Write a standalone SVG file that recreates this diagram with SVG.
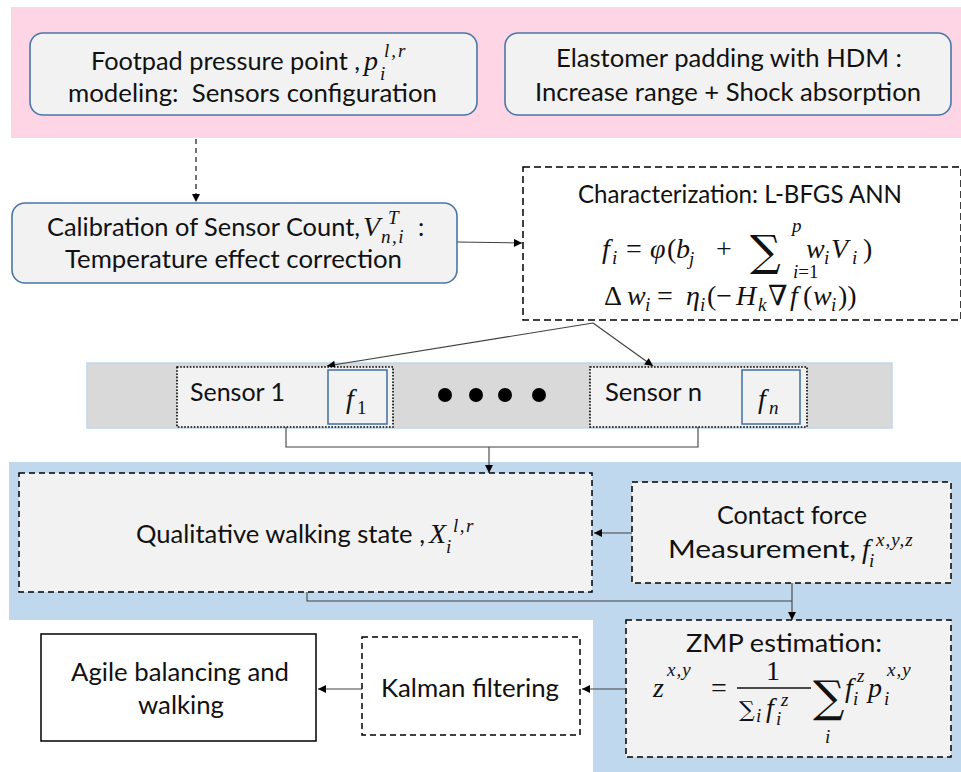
<svg xmlns="http://www.w3.org/2000/svg" width="961" height="772" viewBox="0 0 961 772">
  <defs>
    <marker id="ah" viewBox="0 0 10 10" refX="10" refY="5" markerWidth="9" markerHeight="8" markerUnits="userSpaceOnUse" orient="auto">
      <path d="M0,0 L10,5 L0,10 z" fill="#000"/>
    </marker>
    <style>
      .t { font-family: Lato, "Open Sans", "Liberation Sans", sans-serif; font-size: 25px; fill: #111; }
      .m { font-family: "Liberation Serif", "DejaVu Serif", serif; font-style: italic; font-size: 28px; fill: #111; }
      .u { font-style: normal; }
      .s { font-size: 19px; }
      .sum { font-family: "DejaVu Serif", "Liberation Serif", serif; font-style: normal; fill: #111; }
      .rbox { fill: #f2f2f2; stroke: #4a76a8; stroke-width: 1.6; }
      .dbox { fill: #f2f2f2; stroke: #000; stroke-width: 1.5; stroke-dasharray: 6 4; }
      .wdbox { fill: #fff; stroke: #000; stroke-width: 1.5; stroke-dasharray: 6 4; }
      .dotbox { fill: #f2f2f2; stroke: #000; stroke-width: 1.6; stroke-dasharray: 1.6 1.6; }
      .fbox { fill: #f2f2f2; stroke: #4a76a8; stroke-width: 1.6; }
      .link { fill: none; stroke: #404040; stroke-width: 1.1; }
      .dash { stroke: #000; stroke-dasharray: 5 4; }
    </style>
  </defs>

  <!-- background bands -->
  <rect x="11" y="7" width="950" height="131" fill="#fdd5e5"/>
  <path d="M9,462 H961 V772 H593 V620 H9 Z" fill="#c0d8ee"/>
  <rect x="87" y="363" width="805" height="65" fill="#d9d9d9" stroke="#bdd7ee" stroke-width="1.5"/>

  <!-- connectors -->
  <g id="connectors">
    <line class="link dash" x1="196" y1="139" x2="196" y2="202" marker-end="url(#ah)"/>
    <line class="link" x1="457" y1="242" x2="522" y2="243" marker-end="url(#ah)"/>
    <line class="link" x1="593" y1="323" x2="327" y2="366" marker-end="url(#ah)"/>
    <line class="link" x1="593" y1="323" x2="653" y2="366" marker-end="url(#ah)"/>
    <polyline class="link" points="286,427 286,447 698,447 698,427"/>
    <line class="link" x1="489" y1="447" x2="489" y2="473" marker-end="url(#ah)"/>
    <line class="link" x1="632" y1="533" x2="594" y2="533" marker-end="url(#ah)"/>
    <polyline class="link" points="307,592 307,601 792,601"/>
    <line class="link" x1="792" y1="583" x2="792" y2="620" marker-end="url(#ah)"/>
    <line class="link" x1="625" y1="689" x2="582" y2="689" marker-end="url(#ah)"/>
    <line class="link" x1="362" y1="689" x2="318" y2="689" marker-end="url(#ah)"/>
  </g>

  <!-- footpad modelling -->
  <g id="footpad">
    <rect class="rbox" x="30" y="33" width="447" height="82" rx="13"/>
    <text class="t" x="91" y="70" textLength="269" lengthAdjust="spacingAndGlyphs">Footpad pressure point ,</text>
    <text class="m" x="364" y="70">p</text>
    <text class="m s" x="380" y="80">i</text>
    <text class="m s" x="384" y="57" letter-spacing="2">l,r</text>
    <text class="t" x="68" y="102" textLength="369" lengthAdjust="spacingAndGlyphs" xml:space="preserve">modeling:  Sensors configuration</text>
  </g>

  <!-- elastomer padding -->
  <g id="elastomer">
    <rect class="rbox" x="505" y="33" width="446" height="82" rx="13"/>
    <text class="t" x="556" y="67" textLength="346" lengthAdjust="spacingAndGlyphs">Elastomer padding with HDM :</text>
    <text class="t" x="535" y="101" textLength="386" lengthAdjust="spacingAndGlyphs">Increase range + Shock absorption</text>
  </g>

  <!-- calibration -->
  <g id="calibration">
    <rect class="rbox" x="12" y="203" width="445" height="80" rx="13"/>
    <text class="t" x="47" y="236" textLength="313" lengthAdjust="spacingAndGlyphs">Calibration of Sensor Count,</text>
    <text class="m" x="363" y="236">V</text>
    <text class="m s" x="388" y="224">T</text>
    <text class="m s" x="381" y="243" letter-spacing="1.5">n,i</text>
    <text class="t" x="418" y="236">:</text>
    <text class="t" x="65" y="268" textLength="337" lengthAdjust="spacingAndGlyphs">Temperature effect correction</text>
  </g>

  <!-- characterization ANN -->
  <g id="characterization">
    <rect x="523" y="167" width="438" height="153" fill="#fff" stroke="#000" stroke-width="1.5" stroke-dasharray="7 4"/>
    <text class="t" x="578" y="203" textLength="324" lengthAdjust="spacingAndGlyphs">Characterization: L-BFGS ANN</text>
    <text class="m" y="258"><tspan x="602">f</tspan><tspan class="s" x="612" dy="6">i</tspan><tspan class="u" x="626" dy="-6">=</tspan><tspan x="650">φ</tspan><tspan class="u" x="667">(</tspan><tspan x="676">b</tspan><tspan class="s" x="689" dy="7">j</tspan><tspan class="u" x="716" dy="-7">+</tspan></text>
    <text class="sum" x="750" y="266" font-size="43">∑</text>
    <text class="m s" x="792" y="232">p</text>
    <text class="m s" x="793" y="278" font-size="17">i<tspan class="u">=1</tspan></text>
    <text class="m" y="258"><tspan x="806">w</tspan><tspan class="s" x="824" dy="6">i</tspan><tspan x="831" dy="-6">V</tspan><tspan class="s" x="852" dy="6">i</tspan><tspan class="u" x="863" dy="-6">)</tspan></text>
    <text class="m" y="305"><tspan class="u" x="604">Δ</tspan><tspan x="627">w</tspan><tspan class="s" x="645" dy="6">i</tspan><tspan class="u" x="657" dy="-6">=</tspan><tspan x="686">η</tspan><tspan class="s" x="700" dy="6">i</tspan><tspan class="u" x="707" dy="-6">(−</tspan><tspan x="736">H</tspan><tspan class="s" x="758" dy="6">k</tspan><tspan class="u" x="768" dy="-6">∇</tspan><tspan x="790">f</tspan><tspan class="u" x="803">(</tspan><tspan x="813">w</tspan><tspan class="s" x="831" dy="6">i</tspan><tspan class="u" x="838" dy="-6">))</tspan></text>
  </g>

  <!-- sensors -->
  <g id="sensor-1">
    <rect class="dotbox" x="177" y="367" width="216" height="60"/>
    <text class="t" x="190" y="401" textLength="95" lengthAdjust="spacingAndGlyphs">Sensor 1</text>
    <rect class="fbox" x="328" y="370" width="59" height="54"/>
    <text class="m" x="346" y="408">f</text>
    <text class="m u s" x="357" y="414">1</text>
  </g>
  <g id="sensor-dots" fill="#000">
    <circle cx="445" cy="395" r="7"/>
    <circle cx="476" cy="395" r="7"/>
    <circle cx="505" cy="395" r="7"/>
    <circle cx="539" cy="395" r="7"/>
  </g>
  <g id="sensor-n">
    <rect class="dotbox" x="590" y="367" width="217" height="60"/>
    <text class="t" x="605" y="401" textLength="97" lengthAdjust="spacingAndGlyphs">Sensor n</text>
    <rect class="fbox" x="742" y="370" width="58" height="54"/>
    <text class="m" x="758" y="408">f</text>
    <text class="m s" x="769" y="414">n</text>
  </g>

  <!-- walking state -->
  <g id="walking-state">
    <rect class="dbox" x="19" y="473" width="573" height="119"/>
    <text class="t" x="136" y="543" font-size="26" textLength="289" lengthAdjust="spacingAndGlyphs">Qualitative walking state ,</text>
    <text class="m" x="429" y="543">X</text>
    <text class="m s" x="446" y="553">i</text>
    <text class="m s" x="453" y="532" letter-spacing="1.5">l,r</text>
  </g>

  <!-- contact force -->
  <g id="contact-force">
    <rect class="dbox" x="632" y="482" width="319" height="101"/>
    <text class="t" x="717" y="524" textLength="150" lengthAdjust="spacingAndGlyphs">Contact force</text>
    <text class="t" x="668" y="558" textLength="188" lengthAdjust="spacingAndGlyphs">Measurement,</text>
    <text class="m" x="862" y="558">f</text>
    <text class="m s" x="869" y="567">i</text>
    <text class="m s" x="876" y="546" letter-spacing="1">x,y,z</text>
  </g>

  <!-- ZMP estimation -->
  <g id="zmp">
    <rect class="dbox" x="626" y="620" width="325" height="137"/>
    <text class="t" x="686" y="652" textLength="196" lengthAdjust="spacingAndGlyphs">ZMP estimation:</text>
    <text class="m" x="653" y="697">z</text>
    <text class="m s" x="667" y="676" letter-spacing="1">x,y</text>
    <text class="m u" x="711" y="697">=</text>
    <text class="m u" x="766" y="680">1</text>
    <line x1="737" y1="688" x2="811" y2="688" stroke="#111" stroke-width="1.3"/>
    <text class="sum" x="739" y="717" font-size="22">∑</text>
    <text class="m s" x="756" y="722" font-size="16">i</text>
    <text class="m" x="766" y="717">f</text>
    <text class="m s" x="776" y="725">i</text>
    <text class="m s" x="781" y="706">z</text>
    <text class="sum" x="813" y="712" font-size="44">∑</text>
    <text class="m s" x="825" y="743">i</text>
    <text class="m" x="845" y="697">f</text>
    <text class="m s" x="853" y="705">i</text>
    <text class="m s" x="857" y="682">z</text>
    <text class="m" x="868" y="697">p</text>
    <text class="m s" x="884" y="705">i</text>
    <text class="m s" x="887" y="676" letter-spacing="1">x,y</text>
  </g>

  <!-- Kalman filter -->
  <g id="kalman">
    <rect class="wdbox" x="362" y="637" width="218" height="98"/>
    <text class="t" x="381" y="697" textLength="178" lengthAdjust="spacingAndGlyphs">Kalman filtering</text>
  </g>

  <!-- output -->
  <g id="agile">
    <rect x="41" y="634" width="275" height="107" fill="#fff" stroke="#000" stroke-width="1.5"/>
    <text class="t" x="71" y="681" textLength="218" lengthAdjust="spacingAndGlyphs">Agile balancing and</text>
    <text class="t" x="138" y="714" textLength="86" lengthAdjust="spacingAndGlyphs">walking</text>
  </g>
</svg>
